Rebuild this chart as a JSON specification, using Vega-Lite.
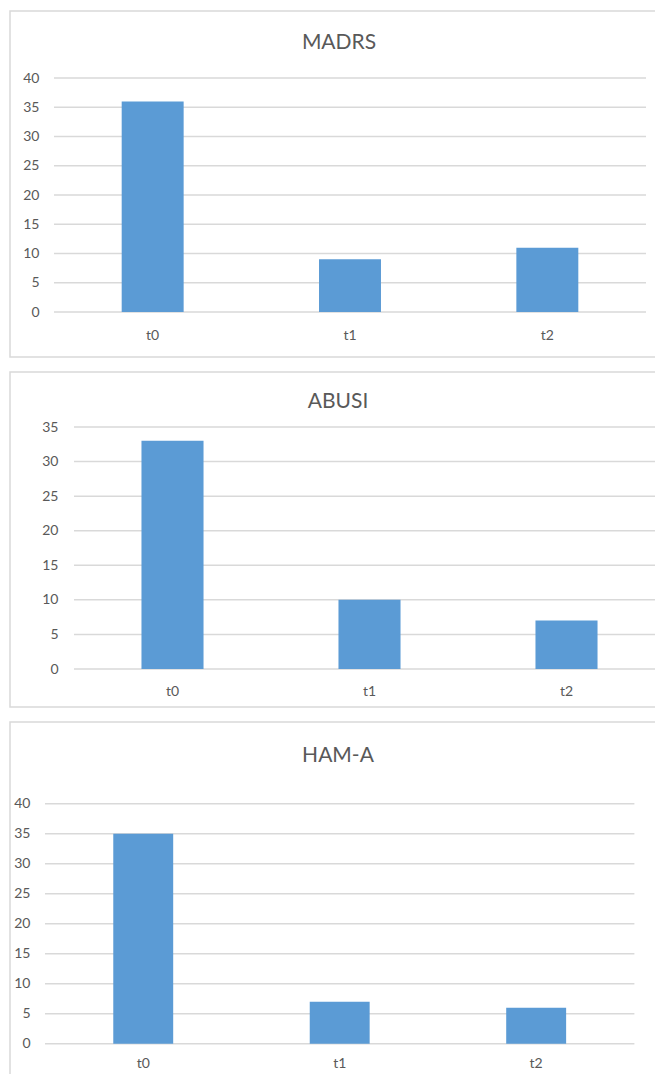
{
  "$schema": "https://vega.github.io/schema/vega-lite/v6.json",
  "padding": {"left": 9, "top": 10, "right": 0, "bottom": 0},
  "background": "white",
  "spacing": 13,
  "datasets": {
    "madrs": [{"t": "t0", "v": 36}, {"t": "t1", "v": 9}, {"t": "t2", "v": 11}],
    "abusi": [{"t": "t0", "v": 33}, {"t": "t1", "v": 10}, {"t": "t2", "v": 7}],
    "hama": [{"t": "t0", "v": 35}, {"t": "t1", "v": 7}, {"t": "t2", "v": 6}],
    "g40": [{"g": 0}, {"g": 5}, {"g": 10}, {"g": 15}, {"g": 20}, {"g": 25}, {"g": 30}, {"g": 35}, {"g": 40}],
    "g35": [{"g": 0}, {"g": 5}, {"g": 10}, {"g": 15}, {"g": 20}, {"g": 25}, {"g": 30}, {"g": 35}]
  },
  "vconcat": [
    {
      "width": 700,
      "height": 346,
      "title": {"text": "MADRS", "offset": -42, "dx": -21},
      "layer": [
        {
          "data": {"name": "g40"},
          "mark": {"type": "rule", "stroke": "#d9d9d9", "strokeWidth": 1.5},
          "encoding": {
            "x": {"datum": 0, "type": "quantitative", "scale": {"domain": [0, 1], "range": [44, 636]}, "axis": null},
            "x2": {"datum": 1},
            "y": {"field": "g", "type": "quantitative", "scale": {"domain": [0, 40], "range": [301, 67]}, "axis": {"values": [0, 5, 10, 15, 20, 25, 30, 35, 40], "offset": -44, "labelPadding": 15, "title": null}}
          }
        },
        {
          "data": {"name": "madrs"},
          "mark": {"type": "bar", "color": "#5b9bd5"},
          "encoding": {
            "x": {"field": "t", "type": "nominal", "scale": {"domain": ["t0", "t1", "t2"], "range": [44, 636], "paddingInner": 0.686, "paddingOuter": 0.343}, "axis": {"labelAngle": 0, "offset": -45, "labelPadding": 23, "labelBaseline": "middle", "title": null}},
            "y": {"field": "v", "type": "quantitative", "scale": {"domain": [0, 40], "range": [301, 67]}, "axis": {"values": [0, 5, 10, 15, 20, 25, 30, 35, 40], "offset": -44, "labelPadding": 15, "title": null}}
          }
        }
      ],
      "resolve": {"scale": {"x": "independent"}}
    },
    {
      "width": 700,
      "height": 335,
      "title": {"text": "ABUSI", "offset": -40, "dx": -22},
      "layer": [
        {
          "data": {"name": "g35"},
          "mark": {"type": "rule", "stroke": "#d9d9d9", "strokeWidth": 1.5},
          "encoding": {
            "x": {"datum": 0, "type": "quantitative", "scale": {"domain": [0, 1], "range": [64, 655]}, "axis": null},
            "x2": {"datum": 1},
            "y": {"field": "g", "type": "quantitative", "scale": {"domain": [0, 35], "range": [297, 55]}, "axis": {"values": [0, 5, 10, 15, 20, 25, 30, 35], "offset": -64, "labelPadding": 16, "title": null}}
          }
        },
        {
          "data": {"name": "abusi"},
          "mark": {"type": "bar", "color": "#5b9bd5"},
          "encoding": {
            "x": {"field": "t", "type": "nominal", "scale": {"domain": ["t0", "t1", "t2"], "range": [64, 655], "paddingInner": 0.685, "paddingOuter": 0.3425}, "axis": {"labelAngle": 0, "offset": -38, "labelPadding": 22, "labelBaseline": "middle", "title": null}},
            "y": {"field": "v", "type": "quantitative", "scale": {"domain": [0, 35], "range": [297, 55]}, "axis": {"values": [0, 5, 10, 15, 20, 25, 30, 35], "offset": -64, "labelPadding": 16, "title": null}}
          }
        }
      ],
      "resolve": {"scale": {"x": "independent"}}
    },
    {
      "width": 700,
      "height": 370,
      "title": {"text": "HAM-A", "offset": -44, "dx": -22},
      "layer": [
        {
          "data": {"name": "g40"},
          "mark": {"type": "rule", "stroke": "#d9d9d9", "strokeWidth": 1.5},
          "encoding": {
            "x": {"datum": 0, "type": "quantitative", "scale": {"domain": [0, 1], "range": [35, 624.4]}, "axis": null},
            "x2": {"datum": 1},
            "y": {"field": "g", "type": "quantitative", "scale": {"domain": [0, 40], "range": [321.7, 81.7]}, "axis": {"values": [0, 5, 10, 15, 20, 25, 30, 35, 40], "offset": -35, "labelPadding": 15, "title": null}}
          }
        },
        {
          "data": {"name": "hama"},
          "mark": {"type": "bar", "color": "#5b9bd5"},
          "encoding": {
            "x": {"field": "t", "type": "nominal", "scale": {"domain": ["t0", "t1", "t2"], "range": [35, 624.4], "paddingInner": 0.695, "paddingOuter": 0.3475}, "axis": {"labelAngle": 0, "offset": -48.3, "labelPadding": 20, "labelBaseline": "middle", "title": null}},
            "y": {"field": "v", "type": "quantitative", "scale": {"domain": [0, 40], "range": [321.7, 81.7]}, "axis": {"values": [0, 5, 10, 15, 20, 25, 30, 35, 40], "offset": -35, "labelPadding": 15, "title": null}}
          }
        }
      ],
      "resolve": {"scale": {"x": "independent"}}
    }
  ],
  "config": {
    "view": {"stroke": "#d9d9d9", "strokeWidth": 1.5},
    "axis": {"grid": false, "domain": false, "ticks": false, "tickSize": 0, "labelColor": "#595959", "labelFont": "Lato", "labelFontSize": 14},
    "title": {"font": "Lato", "fontSize": 21, "fontWeight": "normal", "color": "#595959", "baseline": "middle", "anchor": "middle", "frame": "group"}
  }
}
